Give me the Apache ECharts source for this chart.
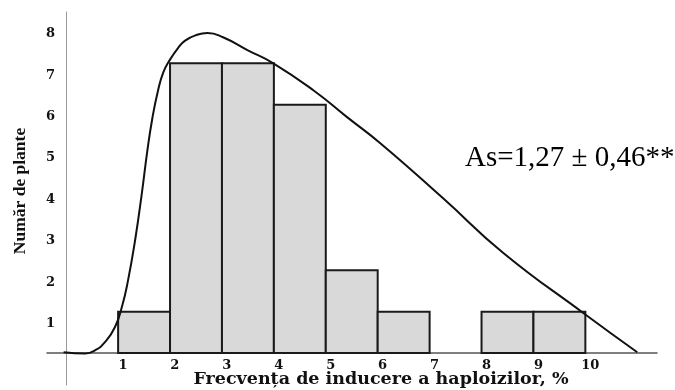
<!DOCTYPE html>
<html>
<head>
<meta charset="utf-8">
<script src="https://cdn.jsdelivr.net/npm/echarts@6/dist/echarts.min.js"></script>
<style>
  html, body { margin: 0; padding: 0; background: #fff; }
  #chart { width: 675px; height: 390px; }
</style>
</head>
<body>
<div id="chart"></div>
<script>
// Histogram bins: left edge of each 1%-wide class and the number of plants in it
const binStarts = [1, 2, 3, 4, 5, 6, 8, 9];
const binCounts = [1, 7, 7, 6, 2, 1, 1, 1];

// Fitted distribution curve (x = %, y = plants)
const curveX = [-0.05, 0.37, 0.56, 0.75, 0.94, 1.08, 1.19, 1.33, 1.46, 1.56, 1.66, 1.77, 1.87, 1.98, 2.16, 2.29, 2.50, 2.72, 3.02, 3.49, 3.99, 4.76, 5.41, 6.05, 7.26, 8.42, 9.96, 11.00];
const curveY = [0.02, -0.01, 0.07, 0.27, 0.63, 1.15, 1.75, 2.75, 3.89, 4.86, 5.68, 6.35, 6.78, 7.05, 7.38, 7.55, 7.68, 7.73, 7.63, 7.32, 7.00, 6.35, 5.70, 5.07, 3.74, 2.42, 0.97, 0.02];

// Tick labels
const xTicks = [1, 2, 3, 4, 5, 6, 7, 8, 9, 10];
const yTicks = [1, 2, 3, 4, 5, 6, 7, 8];

const xTitle = 'Frecvența de inducere a haploizilor, %';
const yTitle = 'Număr de plante';
const note = 'As=1,27 ± 0,46**';

const X_MAX = 11.38;
const Y_MAX = 8.24;

const chart = echarts.init(document.getElementById('chart'), null, { renderer: 'canvas' });

const bins = binStarts.map((s, i) => [s, binCounts[i]]);
const curve = curveX.map((x, i) => [x, curveY[i]]);

const tickFont = {
  fontFamily: 'DejaVu Serif',
  fontWeight: 'bold',
  fontSize: 13,
  color: '#111'
};

chart.setOption({
  animation: false,
  backgroundColor: '#ffffff',
  grid: [
    // plotting area, axes lines cross at zero and run past it
    { left: 47, right: 18, top: 12, bottom: 5, containLabel: false, outerBoundsMode: 'none' },
    // same scale, origin at the corner: carries the tick labels
    { left: 66, right: 18, top: 12, bottom: 37, containLabel: false, outerBoundsMode: 'none' }
  ],
  xAxis: [
    {
      gridIndex: 0,
      type: 'value',
      min: -0.37,
      max: X_MAX,
      splitLine: { show: false },
      axisTick: { show: false },
      axisLabel: { show: false },
      axisLine: { show: true, onZero: true, lineStyle: { color: '#555', width: 1.5 } }
    },
    {
      gridIndex: 1,
      type: 'value',
      min: 0,
      max: X_MAX,
      splitLine: { show: false },
      axisTick: { show: false },
      axisLine: { show: false },
      axisLabel: Object.assign({
        customValues: xTicks,
        margin: 6,
        padding: [0, 0, 0, 10]
      }, tickFont)
    }
  ],
  yAxis: [
    {
      gridIndex: 0,
      type: 'value',
      min: -0.77,
      max: Y_MAX,
      splitLine: { show: false },
      axisTick: { show: false },
      axisLabel: { show: false },
      axisLine: { show: true, onZero: true, lineStyle: { color: '#999', width: 1 } }
    },
    {
      gridIndex: 1,
      type: 'value',
      min: 0,
      max: Y_MAX,
      splitLine: { show: false },
      axisTick: { show: false },
      axisLine: { show: false },
      axisLabel: Object.assign({
        customValues: yTicks,
        margin: 11,
        verticalAlign: 'top',
        lineHeight: 24
      }, tickFont)
    }
  ],
  series: [
    {
      type: 'custom',
      xAxisIndex: 0,
      yAxisIndex: 0,
      data: bins,
      z: 2,
      renderItem: function (params, api) {
        const x0 = api.value(0);
        const v = api.value(1);
        const p0 = api.coord([x0, 0]);
        const p1 = api.coord([x0 + 1, v]);
        return {
          type: 'rect',
          shape: { x: p0[0], y: p1[1], width: p1[0] - p0[0], height: p0[1] - p1[1] },
          style: { fill: '#d9d9d9', stroke: '#1a1a1a', lineWidth: 2 }
        };
      }
    },
    {
      type: 'line',
      xAxisIndex: 0,
      yAxisIndex: 0,
      data: curve,
      z: 3,
      smooth: 0.5,
      showSymbol: false,
      symbol: 'none',
      lineStyle: { color: '#111', width: 2 }
    }
  ],
  graphic: [
    {
      type: 'text',
      x: 381, y: 379,
      style: {
        text: xTitle,
        font: 'bold 17.5px "DejaVu Serif"',
        fill: '#111',
        textAlign: 'center',
        textVerticalAlign: 'middle'
      }
    },
    {
      type: 'text',
      x: 20, y: 191,
      rotation: Math.PI / 2,
      style: {
        text: yTitle,
        font: 'bold 17.5px "Liberation Serif"',
        fill: '#111',
        textAlign: 'center',
        textVerticalAlign: 'middle'
      }
    },
    {
      type: 'text',
      x: 465, y: 158,
      style: {
        text: note,
        font: '29px "Liberation Serif"',
        fill: '#000',
        textAlign: 'left',
        textVerticalAlign: 'middle'
      }
    }
  ]
});
</script>
</body>
</html>
